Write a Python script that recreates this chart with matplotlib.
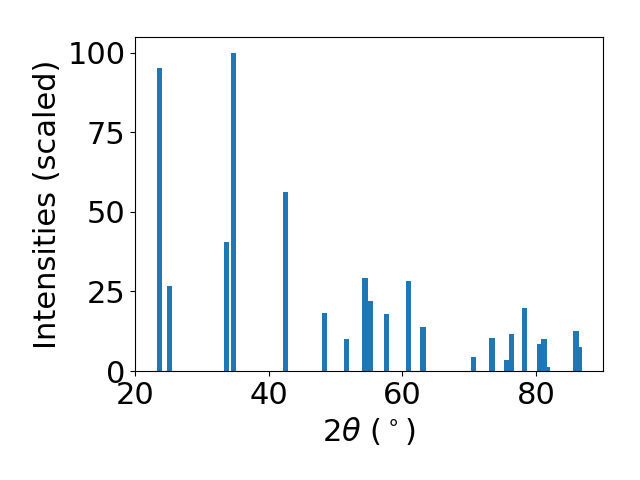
import matplotlib
matplotlib.use('Agg')
import matplotlib.pyplot as plt

# peak positions (2theta, degrees) and scaled intensities
two_theta = [23.62, 25.2, 33.64, 34.76, 42.47, 48.3, 51.67, 54.4, 55.2, 57.6,
             60.9, 63.1, 70.6, 73.4, 75.6, 76.3, 78.3, 80.5, 81.63, 81.2,
             86.42, 86.0]
intensity = [95.3, 26.6, 40.4, 100.0, 56.4, 18.2, 10.0, 29.2, 21.9, 17.9,
             28.2, 13.8, 4.4, 10.3, 3.4, 11.6, 19.7, 8.5, 1.3, 10.0,
             7.5, 12.5]

plt.rcParams['font.size'] = 22

fig, ax = plt.subplots(figsize=(6.4, 4.8), dpi=100)
ax.bar(two_theta, intensity, width=0.8, color='tab:blue')
ax.set_xlim(20, 90)
ax.set_xlabel(r'$2\theta$ ($^\circ$)')
ax.set_ylabel('Intensities (scaled)')

fig.subplots_adjust(left=0.211, right=0.942, top=0.923, bottom=0.227)
fig.savefig('out.png')
